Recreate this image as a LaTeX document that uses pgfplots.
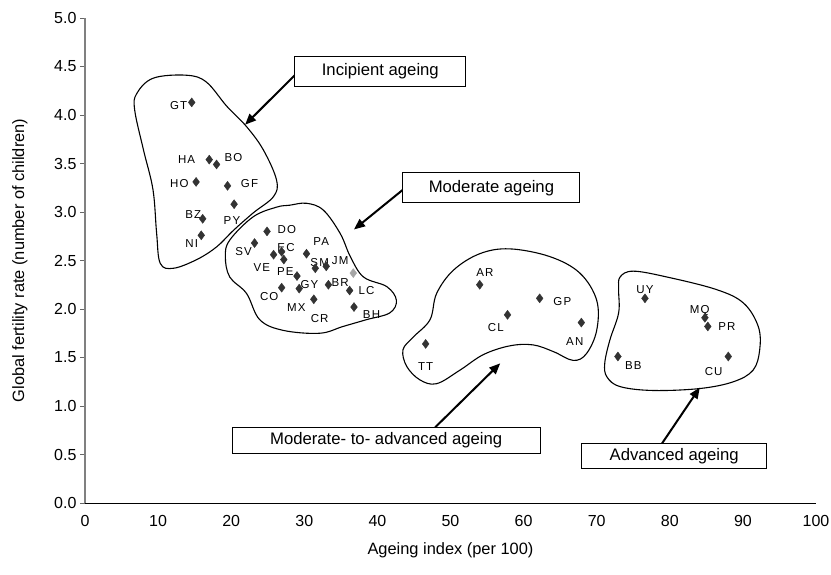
\documentclass[border=0pt]{standalone}
\usepackage{pgfplots}
\pgfplotsset{compat=1.18}
\usepackage{pgfplotstable}
\usepackage{fontspec}
\setmainfont{Liberation Sans}
\newfontfamily\labfont[LetterSpace=10]{Liberation Sans}
\usetikzlibrary{arrows.meta}

% ageing index, fertility rate
\pgfplotstableread{
x y
14.6 4.13
17.0 3.54
18.0 3.49
15.2 3.31
19.5 3.27
20.4 3.08
16.1 2.93
15.9 2.76
24.9 2.80
23.2 2.68
26.9 2.59
25.8 2.56
27.2 2.51
30.3 2.57
31.5 2.42
33.0 2.44
29.0 2.34
26.9 2.22
29.3 2.21
33.3 2.25
36.2 2.19
31.3 2.10
36.8 2.02
54.0 2.25
62.2 2.11
57.8 1.94
67.9 1.86
46.6 1.64
76.6 2.11
84.8 1.91
85.2 1.82
72.9 1.51
88.0 1.51
}\countries

\tikzset{
  lab/.style={font=\labfont\fontsize{11.5}{13}\selectfont, inner sep=0pt},
  blob/.style={line width=1.1pt},
  box/.style={draw, line width=0.9pt, fill=white, font=\fontsize{16.7}{19}\selectfont, inner sep=0pt},
  arr/.style={line width=2pt, -{Triangle[length=11pt,width=9pt]}}
}

\begin{document}
\begin{tikzpicture}
\begin{axis}[
  name=ax,
  scale only axis,
  width=731pt, height=485pt,
  xmin=0, xmax=100, ymin=0, ymax=5,
  axis x line*=bottom, axis y line*=left,
  x axis line style={black, line width=0.6pt},
  y axis line style={black!50, line width=1.6pt},
  xtick={0,10,...,100},
  ytick={0,0.5,...,5},
  tick align=outside,
  major tick length=5pt,
  xtick style={draw=none},
  ytick style={black!60, line width=0.6pt},
  yticklabel style={/pgf/number format/fixed, /pgf/number format/fixed zerofill, /pgf/number format/precision=1},
  /pgf/number format/assume math mode=true,
  tick label style={font=\fontsize{16}{18}\selectfont},
  xticklabel style={yshift=-4pt},
  label style={font=\fontsize{16.4}{19}\selectfont},
  xlabel={Ageing index (per 100)},
  ylabel={Global fertility rate (number of children)},
  xlabel style={at={(axis description cs:0.5,-0.097)}, anchor=center},
  ylabel style={at={(axis description cs:-0.089,0.5)}, anchor=center, rotate=0},
  clip=false,
]
\addplot[only marks, mark=diamond*, mark size=4.5pt, color=black!80] table {\countries};
\addplot[only marks, mark=diamond*, mark size=4.5pt, color=black!35] coordinates {(36.7,2.37)};

% cluster outlines
\draw[blob] plot[smooth cycle, tension=0.6] coordinates {
  (7.07,4.22) (9.34,4.38) (13.9,4.41) (16.6,4.34) (19.4,4.09) (22.1,3.88)
  (24.4,3.64) (26.2,3.33) (25.8,3.16) (23.0,2.99) (20.3,2.81) (18.0,2.64)
  (15.3,2.51) (12.1,2.42) (10.3,2.47) (9.8,2.78) (9.3,3.23) (8.0,3.64) (6.8,4.05)};
\draw[blob] plot[smooth cycle, tension=0.6] coordinates {
  (28.0,3.07) (30.3,3.09) (32.6,3.02) (34.9,2.78) (36.3,2.54) (38.1,2.33)
  (41.3,2.23) (42.6,2.09) (41.7,1.96) (38.5,1.89) (35.3,1.82) (32.1,1.75)
  (27.1,1.78) (23.9,1.89) (22.1,2.16) (19.8,2.33) (19.2,2.54) (19.8,2.71)
  (23.0,2.95) (26.2,3.05)};
\draw[blob] plot[smooth cycle, tension=0.6] coordinates {
  (43.5,1.58) (44.9,1.71) (47.2,1.89) (48.1,2.16) (50.4,2.40) (54.0,2.57)
  (58.1,2.62) (63.6,2.54) (67.7,2.37) (70.0,2.09) (70.0,1.78) (68.6,1.54)
  (66.8,1.47) (64.1,1.56) (61.3,1.63) (58.1,1.62) (54.5,1.53) (51.3,1.37)
  (48.1,1.23) (45.8,1.27) (44.0,1.41)};
\draw[blob] plot[smooth cycle, tension=0.6] coordinates {
  (73.2,2.33) (75.0,2.39) (79.6,2.33) (86.4,2.20) (90.1,2.06) (92.1,1.82)
  (92.3,1.58) (91.4,1.37) (88.7,1.25) (84.1,1.18) (77.7,1.16) (73.2,1.20)
  (71.4,1.30) (71.1,1.44) (71.8,1.68) (73.0,1.96) (73.0,2.20)};

% country codes
\node[lab] at (12.8,4.10) {GT};
\node[lab] at (13.9,3.54) {HA};
\node[lab] at (20.3,3.56) {BO};
\node[lab] at (12.9,3.29) {HO};
\node[lab] at (22.5,3.29) {GF};
\node[lab] at (14.8,2.97) {BZ};
\node[lab] at (20.1,2.91) {PY};
\node[lab] at (14.6,2.67) {NI};
\node[lab] at (27.6,2.82) {DO};
\node[lab] at (21.7,2.59) {SV};
\node[lab] at (27.5,2.63) {EC};
\node[lab] at (24.2,2.43) {VE};
\node[lab] at (27.4,2.39) {PE};
\node[lab] at (32.3,2.70) {PA};
\node[lab] at (32.1,2.48) {SM};
\node[lab] at (34.9,2.50) {JM};
\node[lab] at (30.7,2.25) {GY};
\node[lab] at (34.9,2.27) {BR};
\node[lab] at (38.5,2.19) {LC};
\node[lab] at (25.2,2.13) {CO};
\node[lab] at (28.9,2.01) {MX};
\node[lab] at (32.1,1.90) {CR};
\node[lab] at (39.2,1.94) {BH};
\node[lab] at (54.7,2.38) {AR};
\node[lab] at (65.3,2.08) {GP};
\node[lab] at (56.2,1.81) {CL};
\node[lab] at (67.0,1.66) {AN};
\node[lab] at (46.6,1.41) {TT};
\node[lab] at (76.6,2.20) {UY};
\node[lab] at (84.1,1.98) {MQ};
\node[lab] at (87.8,1.82) {PR};
\node[lab] at (75.0,1.42) {BB};
\node[lab] at (86.0,1.36) {CU};

% group boxes and arrows
\draw[arr] (28.7,4.41) -- (21.9,3.90);
\draw[arr] (43.5,3.23) -- (36.8,2.82);
\draw[arr] (47.9,0.78) -- (56.8,1.44);
\draw[arr] (78.9,0.61) -- (84.1,1.19);
\node[box, minimum width=171pt, minimum height=30pt] at (40.4,4.45) {Incipient ageing};
\node[box, minimum width=177pt, minimum height=30pt] at (55.6,3.25) {Moderate ageing};
\node[box, minimum width=308pt, minimum height=26pt] at (41.2,0.65) {Moderate- to- advanced ageing};
\node[box, minimum width=185pt, minimum height=25pt] at (80.6,0.48) {Advanced ageing};
\end{axis}
\pgfresetboundingbox
\path ([shift={(-85pt,-71pt)}]ax.south west) rectangle ([shift={(746pt,503pt)}]ax.south west);
\end{tikzpicture}
\end{document}
